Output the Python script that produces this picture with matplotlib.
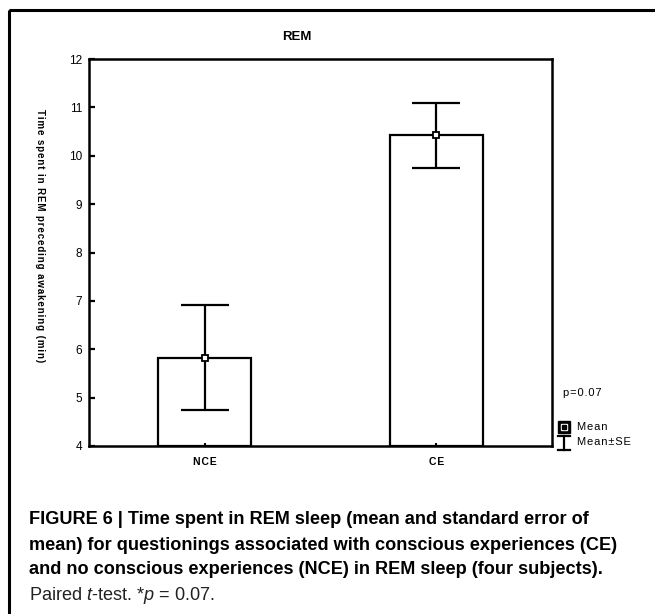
import matplotlib
matplotlib.use("Agg")
import matplotlib.pyplot as plt
from matplotlib.patches import Rectangle

# ---- data ----
categories = ["NCE", "CE"]
means = [5.82, 10.43]
se_upper = [6.91, 11.09]
se_lower = [4.74, 9.74]
yticks = [4, 5, 6, 7, 8, 9, 10, 11, 12]
title = "REM"
ylabel = "Time spent in REM preceding awakening (min)"
ptext = "p=0.07"

FAM = ['Liberation Sans', 'DejaVu Sans']
plt.rcParams['font.family'] = FAM
plt.rcParams['mathtext.fontset'] = 'custom'
plt.rcParams['mathtext.rm'] = 'Liberation Sans'
plt.rcParams['mathtext.it'] = 'Liberation Sans:italic'

def spaced(s, sp="\u200a"):
    return sp.join(s)

W, H = 655, 614
fig = plt.figure(figsize=(W / 100, H / 100), dpi=100)

def fx(px):
    return px / W

def fy(py):
    return 1 - py / H

L, R, T, B = 89, 552, 59, 446
ax = fig.add_axes([fx(L), fy(B), fx(R - L), (B - T) / H])
x = list(range(len(categories)))
ax.bar(x, [m - 4 for m in means], bottom=4, width=0.40, color="white",
       edgecolor="black", linewidth=1.6, zorder=1)
yerr = [[m - lo for m, lo in zip(means, se_lower)],
        [hi - m for m, hi in zip(means, se_upper)]]
ax.errorbar(x, means, yerr=yerr, fmt="none", ecolor="black", elinewidth=1.6,
            capsize=17.5, capthick=1.6, zorder=2)
ax.plot(x, means, linestyle="none", marker="s", markersize=5, markerfacecolor="white",
        markeredgecolor="black", markeredgewidth=1.3, zorder=3)
ax.set_xlim(-0.5, 1.5)
ax.set_ylim(4, 12)
ax.set_yticks(yticks)
ax.set_yticklabels([str(t) for t in yticks], fontsize=8.5)
ax.set_xticks(x)
ax.set_xticklabels([spaced(c) for c in categories], fontsize=7.5, fontweight="bold")
ax.tick_params(axis="y", direction="in", length=4, width=1.6, pad=5)
ax.tick_params(axis="x", direction="in", length=2.5, width=1.5, pad=8)
for s in ax.spines.values():
    s.set_linewidth(1.8)

# title and y label
fig.text(fx(297), fy(37), title, ha="center", va="center", fontsize=9.5, fontweight="bold")
fig.text(fx(40), fy(236), spaced(ylabel), ha="center", va="center", rotation=-90,
         fontsize=7, fontweight="bold")

# legend area
fig.text(fx(563), fy(393), spaced(ptext), ha="left", va="center", fontsize=8)
ov = fig.add_axes([0, 0, 1, 1], facecolor="none")
ov.set_xlim(0, W)
ov.set_ylim(H, 0)
ov.axis("off")
ov.plot([564], [427], marker="s", markersize=8, markerfacecolor="black", markeredgecolor="black")
ov.plot([564], [427], marker="s", markersize=5, markerfacecolor="white", markeredgecolor="white")
ov.plot([564], [427], marker="s", markersize=2.2, markerfacecolor="black", markeredgecolor="black")
ov.plot([564, 564], [436, 450], color="black", lw=1.6)
ov.plot([558, 570], [436, 436], color="black", lw=1.6)
ov.plot([558, 570], [450, 450], color="black", lw=1.6)
fig.text(fx(577), fy(427), spaced("Mean"), ha="left", va="center", fontsize=8)
fig.text(fx(577), fy(442), spaced("Mean\u00b1SE"), ha="left", va="center", fontsize=8)

# outer frame (clipped at right and bottom)
ov.add_patch(Rectangle((9, 10), 700, 700, fill=False, edgecolor="black", lw=2.2))

# caption
lines = [
    "FIGURE 6 | Time spent in REM sleep (mean and standard error of",
    "mean) for questionings associated with conscious experiences (CE)",
    "and no conscious experiences (NCE) in REM sleep (four subjects).",
]
ys = [520, 545, 569]
for txt, yy in zip(lines, ys):
    fig.text(fx(29), fy(yy), txt, ha="left", va="center", fontsize=13.1,
             fontweight="bold")
fig.text(fx(29), fy(595), r"Paired $\it{t}$-test. *$\it{p}$ = 0.07.", ha="left", va="center",
         fontsize=13.1, color="#222222")

fig.savefig("out.png", dpi=100)
